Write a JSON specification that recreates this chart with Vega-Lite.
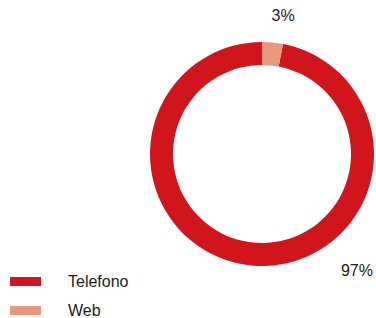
{
  "$schema": "https://vega.github.io/schema/vega-lite/v6.json",
  "width": 224,
  "height": 224,
  "autosize": {"type": "none"},
  "padding": {"left": 150, "top": 42, "right": 2, "bottom": 52},
  "background": "white",
  "config": {"view": {"stroke": null}},
  "data": {
    "values": [
      {"canale": "Telefono", "valore": 97, "etichetta": "97%"},
      {"canale": "Web", "valore": 3, "etichetta": "3%"}
    ]
  },
  "encoding": {
    "theta": {"field": "valore", "type": "quantitative", "stack": true},
    "order": {"field": "valore", "type": "quantitative", "sort": "ascending"}
  },
  "layer": [
    {
      "mark": {"type": "arc", "radius": 112, "radius2": 89, "stroke": null},
      "encoding": {
        "color": {
          "field": "canale",
          "type": "nominal",
          "scale": {"domain": ["Telefono", "Web"], "range": ["#D0161C", "#E8987E"]},
          "legend": {
            "title": null,
            "orient": "none",
            "legendX": -140,
            "legendY": 224,
            "symbolType": "M-1,-0.29H1V0.29H-1Z",
            "symbolSize": 961,
            "symbolStrokeWidth": 0,
            "symbolOpacity": 1,
            "labelFont": "Liberation Sans",
            "labelFontSize": 16,
            "labelColor": "#1a1a1a",
            "labelOffset": 27,
            "rowPadding": 5
          }
        }
      }
    },
    {
      "mark": {"type": "text", "radius": 138.6, "dx": 8, "font": "Liberation Sans", "fontSize": 16, "fill": "#1a1a1a", "align": "center", "baseline": "middle"},
      "encoding": {
        "text": {"condition": {"test": "datum.canale === 'Web'", "field": "etichetta"}, "value": ""}
      }
    },
    {
      "mark": {"type": "text", "radius": 117.5, "dx": 106, "font": "Liberation Sans", "fontSize": 16, "fill": "#1a1a1a", "align": "center", "baseline": "middle"},
      "encoding": {
        "text": {"condition": {"test": "datum.canale === 'Telefono'", "field": "etichetta"}, "value": ""}
      }
    }
  ]
}
